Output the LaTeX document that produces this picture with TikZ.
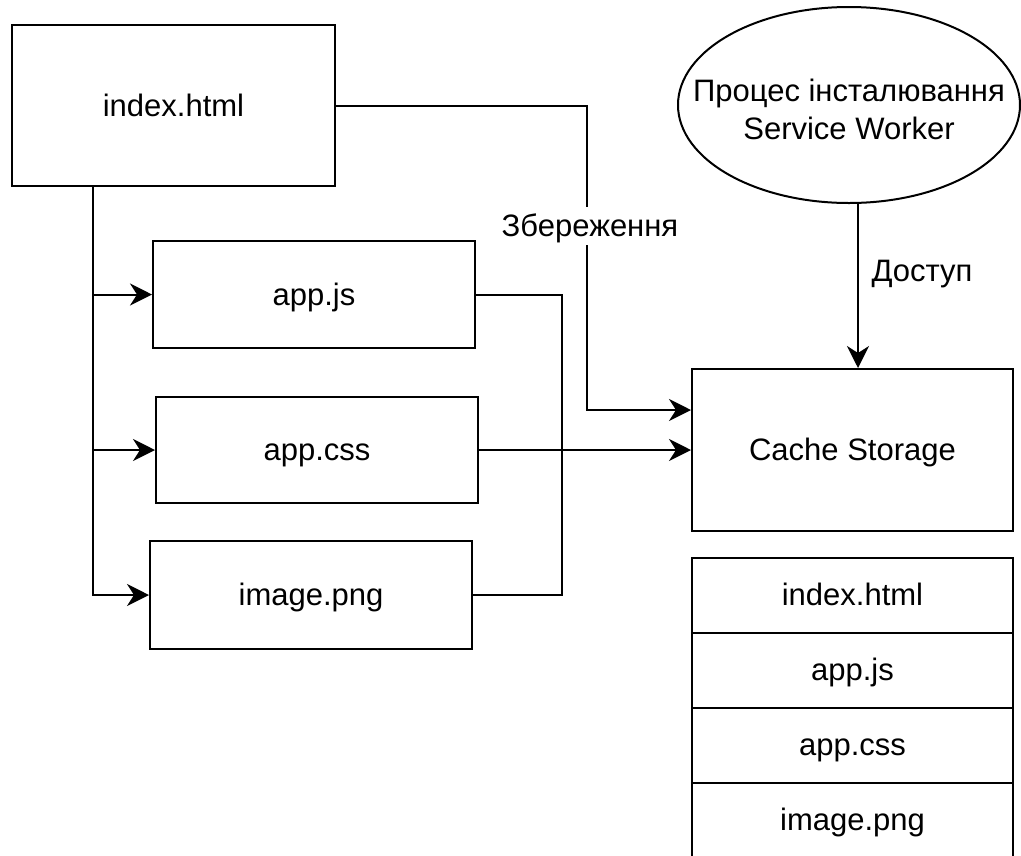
\documentclass[tikz,border=0pt]{standalone}
\usepackage{fontspec}
\setmainfont{Liberation Sans}
\usetikzlibrary{arrows.meta,shapes.geometric}
\tikzset{
  filebox/.style={draw,line width=2pt,inner sep=0pt,font=\fontsize{31}{37}\selectfont},
  filetext/.style={text height=28pt,text depth=6.6pt},
  link/.style={line width=2pt},
  linkarrow/.style={line width=2pt,-{Stealth[length=22pt,width=22pt,inset=7pt]}},
  lbl/.style={fill=white,inner sep=2pt,font=\fontsize{31}{37}\selectfont}
}
\begin{document}
\begin{tikzpicture}[x=1pt,y=-1pt]
  \useasboundingbox (0,0) rectangle (1021,855);
  % files of the page
  \node[filebox,filetext,minimum width=323pt,minimum height=161pt] (idx) at (173.5,105.5) {index.html};
  \node[filebox,filetext,minimum width=322pt,minimum height=107pt] (js) at (314,294.5) {app.js};
  \node[filebox,filetext,minimum width=322pt,minimum height=106pt] (css) at (317,450) {app.css};
  \node[filebox,filetext,minimum width=322pt,minimum height=108pt] (png) at (311,595) {image.png};
  % service worker and cache
  \node[filebox,ellipse,minimum width=342pt,minimum height=196pt] (sw) at (849,105) {\makebox[0pt][c]{\raisebox{-14pt}[0pt][0pt]{\begin{tabular}{@{}c@{}}Процес інсталювання\\[1pt]Service Worker\end{tabular}}}};
  \node[filebox,filetext,minimum width=321pt,minimum height=162pt] (cache) at (852.5,450) {Cache Storage};
  \node[filebox,filetext,minimum width=321pt,minimum height=75pt] (c1) at (852.5,595) {index.html};
  \node[filebox,filetext,minimum width=321pt,minimum height=75pt] (c2) at (852.5,670) {app.js};
  \node[filebox,filetext,minimum width=321pt,minimum height=75pt] (c3) at (852.5,745) {app.css};
  \node[filebox,filetext,minimum width=321pt,minimum height=75pt] (c4) at (852.5,820) {image.png};
  % trunk from index.html
  \coordinate (tr) at ([xshift=-80.5pt]idx.south);
  \draw[linkarrow] (tr) |- (png.west);
  \draw[linkarrow] (tr) |- (js.west);
  \draw[linkarrow] (tr) |- (css.west);
  % saving
  \coordinate (st) at (587,105.5);
  \draw[linkarrow] (idx.east) -- (st) |- ([yshift=40pt]cache.west);
  \node[lbl,filetext] (save) at (590,226) {Збереження};
  \draw[link] (js.east) -- ++(86,0) |- (png.east);
  \draw[linkarrow] (css.east) -- (cache.west);
  % access
  \draw[linkarrow] ([xshift=9pt]sw.south) -- ([xshift=9pt]sw.south |- cache.north);
  \node[anchor=west,filetext,font=\fontsize{31}{37}\selectfont] (acc) at (868,271) {Доступ};
\end{tikzpicture}
\end{document}
